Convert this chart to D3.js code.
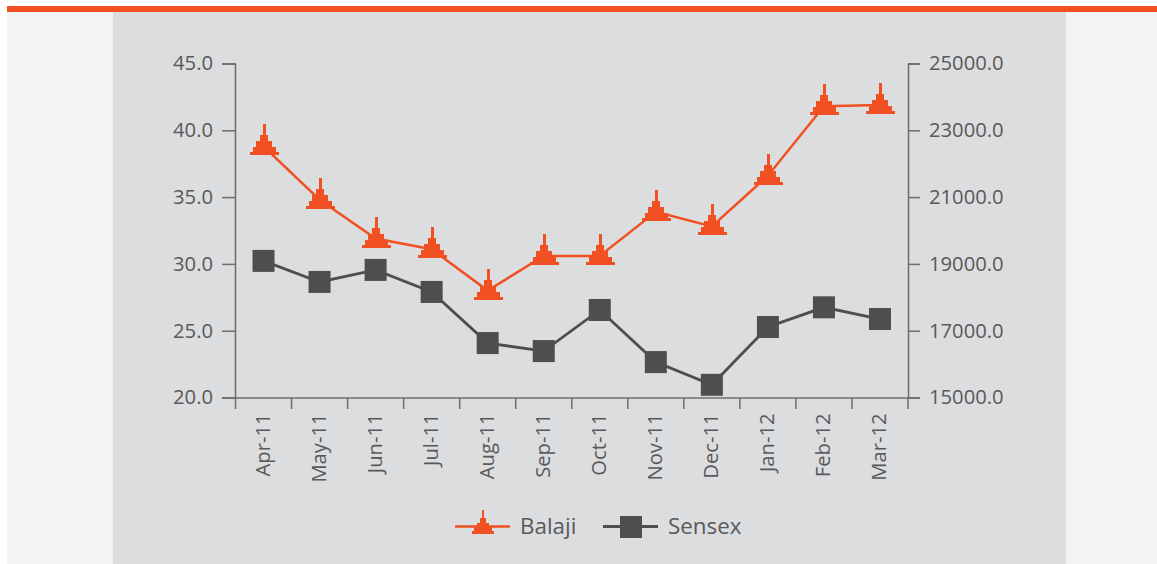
<!DOCTYPE html>
<html>
<head>
<meta charset="utf-8">
<script src="https://cdn.jsdelivr.net/npm/d3@7"></script>
<style>
html, body { margin: 0; padding: 0; background: #fff; }
text { font-family: "Open Sans", sans-serif; fill: #58595b; }
</style>
</head>
<body>
<div id="chart"></div>
<script>
const width = 1157;
const height = 564;

const months = ['Apr-11', 'May-11', 'Jun-11', 'Jul-11', 'Aug-11', 'Sep-11', 'Oct-11', 'Nov-11', 'Dec-11', 'Jan-12', 'Feb-12', 'Mar-12'];
const balaji = [38.8, 34.8, 31.9, 31.1, 28.0, 30.6, 30.6, 33.9, 32.8, 36.6, 41.8, 41.9];
const sensex = [19090, 18460, 18820, 18160, 16630, 16390, 17620, 16060, 15380, 17110, 17700, 17350];
const leftTicks = [20, 25, 30, 35, 40, 45];
const rightTicks = [15000, 17000, 19000, 21000, 23000, 25000];

const ORANGE = '#f15022';
const DARK = '#4d4e50';
const AXIS = '#6d6e70';

const svg = d3.select('#chart')
    .append('svg')
    .attr('width', width)
    .attr('height', height)
    .style('display', 'block');

// page background pieces
svg.append('rect').attr('x', 7).attr('y', 6).attr('width', 1150).attr('height', 558).attr('fill', '#f2f3f5');
svg.append('rect').attr('x', 113).attr('y', 12).attr('width', 953).attr('height', 552).attr('fill', '#dcddde');
svg.append('rect').attr('x', 7).attr('y', 6).attr('width', 1150).attr('height', 6).attr('fill', ORANGE);

const x = d3.scaleBand().domain(months).range([235.5, 908]);
const yLeft = d3.scaleLinear().domain([20, 45]).range([397.5, 63.5]);
const yRight = d3.scaleLinear().domain([15000, 25000]).range([397.5, 63.5]);

function styleAxis(g) {
    g.selectAll('path, line').attr('stroke', AXIS).attr('stroke-width', 1.5);
    g.selectAll('text').style('font-size', '20.2px').attr('fill', '#58595b');
}

svg.append('g')
    .attr('transform', 'translate(235,0)')
    .call(d3.axisLeft(yLeft).tickValues(leftTicks).tickSize(13).tickSizeOuter(13).tickPadding(9).tickFormat(d3.format('.1f')))
    .call(styleAxis);

svg.append('g')
    .attr('transform', 'translate(908,0)')
    .call(d3.axisRight(yRight).tickValues(rightTicks).tickSize(12).tickSizeOuter(12).tickPadding(9).tickFormat(d3.format('.1f')))
    .call(styleAxis);

const xAxis = svg.append('g')
    .attr('transform', 'translate(0,397.5)')
    .call(d3.axisBottom(x).tickSize(0).tickPadding(0))
    .call(styleAxis);

xAxis.selectAll('.tick text')
    .attr('transform', 'rotate(-90)')
    .attr('x', -16)
    .attr('y', -1)
    .attr('dy', '0.35em')
    .attr('text-anchor', 'end');

// ticks sit on the band edges, not the centres
svg.append('g')
    .selectAll('line')
    .data(months.concat(['end']))
    .enter()
    .append('line')
    .attr('x1', (d, i) => i < months.length ? x(d) : x.range()[1])
    .attr('x2', (d, i) => i < months.length ? x(d) : x.range()[1])
    .attr('y1', 397.5)
    .attr('y2', 409)
    .attr('stroke', AXIS)
    .attr('stroke-width', 1.5);

// stepped triangle marker, rows go top to bottom as [half width, height]
const TRI_ROWS = [[1.5, 11], [4, 6], [8, 6], [11.5, 5], [14.5, 3]];

function triangle(g) {
    let top = -22;
    TRI_ROWS.forEach(([w, h]) => {
        g.append('rect')
            .attr('x', -w)
            .attr('y', top)
            .attr('width', w * 2)
            .attr('height', h)
            .attr('fill', ORANGE)
            .attr('shape-rendering', 'crispEdges');
        top += h;
    });
}

const midX = i => x(months[i]) + x.bandwidth() / 2;
const lineBalaji = d3.line().x((d, i) => midX(i)).y(d => yLeft(d));
const lineSensex = d3.line().x((d, i) => midX(i)).y(d => yRight(d));

svg.append('path').attr('d', lineSensex(sensex)).attr('fill', 'none').attr('stroke', DARK).attr('stroke-width', 2.8);
svg.append('path').attr('d', lineBalaji(balaji)).attr('fill', 'none').attr('stroke', ORANGE).attr('stroke-width', 2.5);

svg.selectAll('.sensex')
    .data(sensex)
    .enter()
    .append('rect')
    .attr('class', 'sensex')
    .attr('x', (d, i) => midX(i) - 11)
    .attr('y', d => yRight(d) - 11)
    .attr('width', 22)
    .attr('height', 22)
    .attr('fill', DARK);

svg.selectAll('.balaji')
    .data(balaji)
    .enter()
    .append('g')
    .attr('class', 'balaji')
    .attr('transform', (d, i) => `translate(${midX(i) + 0.5},${yLeft(d)})`)
    .each(function() { triangle(d3.select(this)); });

// legend
const legend = svg.append('g');
legend.append('line').attr('x1', 455).attr('x2', 510).attr('y1', 526.5).attr('y2', 526.5).attr('stroke', ORANGE).attr('stroke-width', 2.5);
legend.append('g').attr('transform', 'translate(483,526.7) scale(0.76)').call(triangle);
legend.append('text').text('Balaji').attr('x', 520).attr('y', 534).style('font-size', '22.4px');
legend.append('line').attr('x1', 603).attr('x2', 658).attr('y1', 526.5).attr('y2', 526.5).attr('stroke', DARK).attr('stroke-width', 2.8);
legend.append('rect').attr('x', 620).attr('y', 516).attr('width', 22).attr('height', 22).attr('fill', DARK);
legend.append('text').text('Sensex').attr('x', 668).attr('y', 534).style('font-size', '22.4px');
</script>
</body>
</html>
